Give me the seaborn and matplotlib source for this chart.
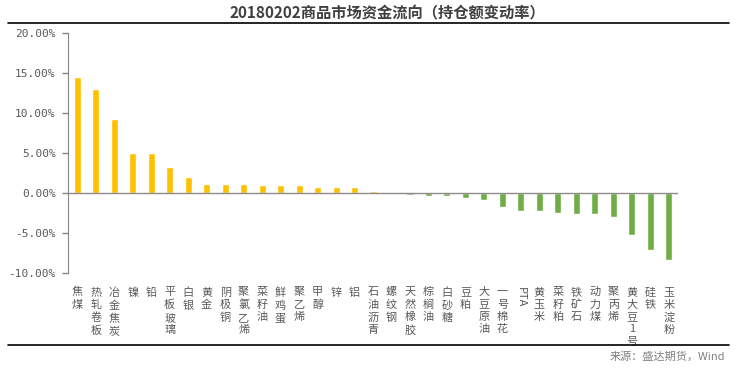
import matplotlib
matplotlib.use('Agg')
import matplotlib.pyplot as plt
import seaborn as sns
from matplotlib.lines import Line2D
from matplotlib.ticker import FuncFormatter

# data (open interest change rate, %)
names = ['焦煤', '热轧卷板', '冶金焦炭', '镍', '铅', '平板玻璃', '白银', '黄金', '阴极铜',
         '聚氯乙烯', '菜籽油', '鲜鸡蛋', '聚乙烯', '甲醇', '锌', '铝', '石油沥青', '螺纹钢',
         '天然橡胶', '棕榈油', '白砂糖', '豆粕', '大豆原油', '一号棉花', 'PTA', '黄玉米',
         '菜籽粕', '铁矿石', '动力煤', '聚丙烯', '黄大豆1号', '硅铁', '玉米淀粉']
values = [14.5, 13.0, 9.3, 5.0, 5.0, 3.3, 2.0, 1.2, 1.2,
          1.2, 1.05, 1.05, 1.05, 0.8, 0.8, 0.8, 0.3, 0.15,
          -0.17, -0.3, -0.3, -0.55, -0.8, -1.67, -2.17, -2.17,
          -2.42, -2.55, -2.55, -2.92, -5.17, -7.04, -8.29]

pos_color = '#FFC000'
neg_color = '#70AD47'
gray = '#595959'

sns.set_style('white')
plt.rcParams['font.family'] = ['Noto Sans CJK SC', 'DejaVu Sans']

fig = plt.figure(figsize=(7.37, 3.69), dpi=100)
ax = fig.add_axes([0.0923, 0.2593, 0.8277, 0.6513])

palette = {n: (pos_color if v >= 0 else neg_color) for n, v in zip(names, values)}
sns.barplot(x=names, y=values, hue=names, order=names, palette=palette,
            legend=False, width=0.38, saturation=1, ax=ax)

ax.set_xlim(-0.5, len(names) - 0.5)
ax.set_ylim(-10, 20)
ax.set_yticks([-10, -5, 0, 5, 10, 15, 20])
ax.yaxis.set_major_formatter(FuncFormatter(lambda v, p: f'{v:.2f}%'))
for lab in ax.get_yticklabels():
    lab.set_fontfamily('DejaVu Sans Mono')
ax.tick_params(axis='y', left=True, length=4, width=1, color='#868686',
               labelsize=8, labelcolor=gray, pad=5)

# vertical stacked category labels
ax.set_xticks(range(len(names)))
ax.set_xticklabels(['\n'.join(n) if n != 'PTA' else n for n in names],
                   fontsize=8, color=gray, linespacing=1.3, va='top')
for lab in ax.get_xticklabels():
    if lab.get_text() == 'PTA':
        lab.set_rotation(-90)
ax.tick_params(axis='x', length=0, pad=10)

ax.axhline(0, color='#8C8C8C', lw=1)
for s in ['top', 'right', 'bottom']:
    ax.spines[s].set_visible(False)
ax.spines['left'].set_color('#868686')
ax.set_xlabel('')
ax.set_ylabel('')

fig.text(0.526, 0.967, '20180202商品市场资金流向（持仓额变动率）', ha='center', va='center',
         fontsize=11, fontweight='bold', color='#404040')
fig.add_artist(Line2D([0.011, 0.989], [0.9377, 0.9377], color='black', lw=1.2))
fig.add_artist(Line2D([0.011, 0.989], [0.065, 0.065], color='black', lw=1.2))
fig.text(0.984, 0.033, '来源：盛达期货，Wind', ha='right', va='center',
         fontsize=8, style='italic', color='#808080')

fig.savefig('out.png', dpi=100)
